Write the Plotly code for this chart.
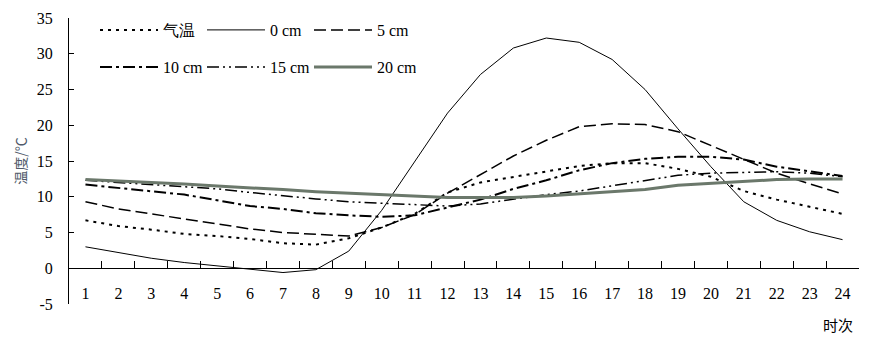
import plotly.graph_objects as go

hours = [str(i) for i in range(1, 25)]

air_temp = [6.7, 5.9, 5.4, 4.8, 4.5, 4.1, 3.5, 3.3, 4.2, 5.7, 7.6, 10.6,
            12.0, 12.8, 13.6, 14.3, 14.7, 14.7, 13.9, 12.8, 10.8, 9.6, 8.6, 7.6]
soil_0cm = [3.0, 2.2, 1.4, 0.8, 0.3, -0.1, -0.6, -0.2, 2.4, 8.1, 14.9, 21.7,
            27.1, 30.8, 32.2, 31.6, 29.2, 25.0, 19.5, 14.2, 9.3, 6.7, 5.1, 4.0]
soil_5cm = [9.3, 8.3, 7.6, 6.9, 6.2, 5.5, 5.0, 4.7, 4.5, 5.7, 7.5, 10.5,
            13.1, 15.7, 17.9, 19.8, 20.2, 20.1, 19.1, 17.2, 15.3, 13.3, 11.8, 10.4]
soil_10cm = [11.7, 11.2, 10.7, 10.3, 9.5, 8.7, 8.3, 7.7, 7.4, 7.2, 7.4, 8.5,
             9.6, 11.1, 12.3, 13.7, 14.7, 15.3, 15.6, 15.6, 15.2, 14.2, 13.5, 12.9]
soil_15cm = [12.3, 12.0, 11.7, 11.4, 11.1, 10.6, 10.1, 9.7, 9.3, 9.1, 8.8, 8.7,
             9.0, 9.7, 10.3, 10.8, 11.5, 12.2, 13.0, 13.3, 13.4, 13.5, 13.3, 12.8]
soil_20cm = [12.4, 12.2, 12.1, 11.8, 11.5, 11.3, 11.0, 10.7, 10.5, 10.3, 10.1, 9.9,
             9.9, 9.9, 10.1, 10.4, 10.7, 11.0, 11.6, 11.9, 12.2, 12.4, 12.5, 12.5]

series_names = ["气温", "0 cm", "5 cm", "10 cm", "15 cm", "20 cm"]
y_ticks = [-5, 0, 5, 10, 15, 20, 25, 30, 35]
y_tick_labels = ["-5", "0", "5", "10", "15", "20", "25", "30", "35"]

SERIF = "Liberation Serif"
CJK = "Noto Sans CJK SC"

styles = [
    dict(color="black", width=2, dash="3px,5px"),
    dict(color="black", width=1, dash="solid"),
    dict(color="black", width=1.5, dash="12px,5px"),
    dict(color="black", width=2, dash="12px,4px,3px,4px"),
    dict(color="black", width=1.5, dash="12px,4px,2px,4px,2px,4px"),
    dict(color="#6b786b", width=3, dash="solid"),
]
data = [air_temp, soil_0cm, soil_5cm, soil_10cm, soil_15cm, soil_20cm]
legends = ["legend", "legend", "legend", "legend2", "legend2", "legend2"]

fig = go.Figure()
for name, vals, st, lg in zip(series_names, data, styles, legends):
    fig.add_trace(go.Scatter(x=hours, y=vals, mode="lines", name=name,
                             line=st, legend=lg))

legend_common = dict(
    orientation="h", xref="paper", yref="paper",
    xanchor="left", yanchor="top",
    entrywidth=34, entrywidthmode="pixels",
    font=dict(family=SERIF, size=16, color="black"),
    bgcolor="rgba(0,0,0,0)", tracegroupgap=0, itemwidth=58,
)

fig.update_layout(
    width=883, height=342,
    margin=dict(l=69, r=24, t=18, b=38, autoexpand=False),
    paper_bgcolor="white", plot_bgcolor="white",
    font=dict(family=SERIF, size=16, color="black"),
    xaxis=dict(
        type="category", range=[-0.5, 23.5],
        anchor="free", position=0.125,
        showline=True, linecolor="black", linewidth=1,
        ticks="inside", ticklen=7, tickcolor="black", tickwidth=1,
        tickson="boundaries", showgrid=False, zeroline=False,
        ticklabelstandoff=11,
        tickfont=dict(family=SERIF, size=16, color="black"),
        automargin=False,
    ),
    yaxis=dict(
        range=[-5, 35], tickvals=y_ticks, ticktext=y_tick_labels,
        showline=True, linecolor="black", linewidth=1,
        ticks="inside", ticklen=5, tickcolor="black",
        showgrid=False, zeroline=False,
        ticklabelstandoff=12,
        tickfont=dict(family=SERIF, size=16, color="black"),
        title=dict(text="温度/℃", font=dict(family=CJK, size=14, color="#505a6a"),
                   standoff=6),
        automargin=False,
    ),
    legend=dict(legend_common, x=(95 - 69) / 790, y=(304 - 13) / 286),
    legend2=dict(legend_common, x=(95 - 69) / 790, y=(304 - 50) / 286),
    showlegend=True,
)

fig.add_annotation(text="时次", xref="paper", yref="paper", x=(838 - 69) / 790, y=-(324 - 304) / 286,
                   showarrow=False, font=dict(family=CJK, size=15, color="black"),
                   xanchor="center", yanchor="middle")

fig.write_html("out.html")
